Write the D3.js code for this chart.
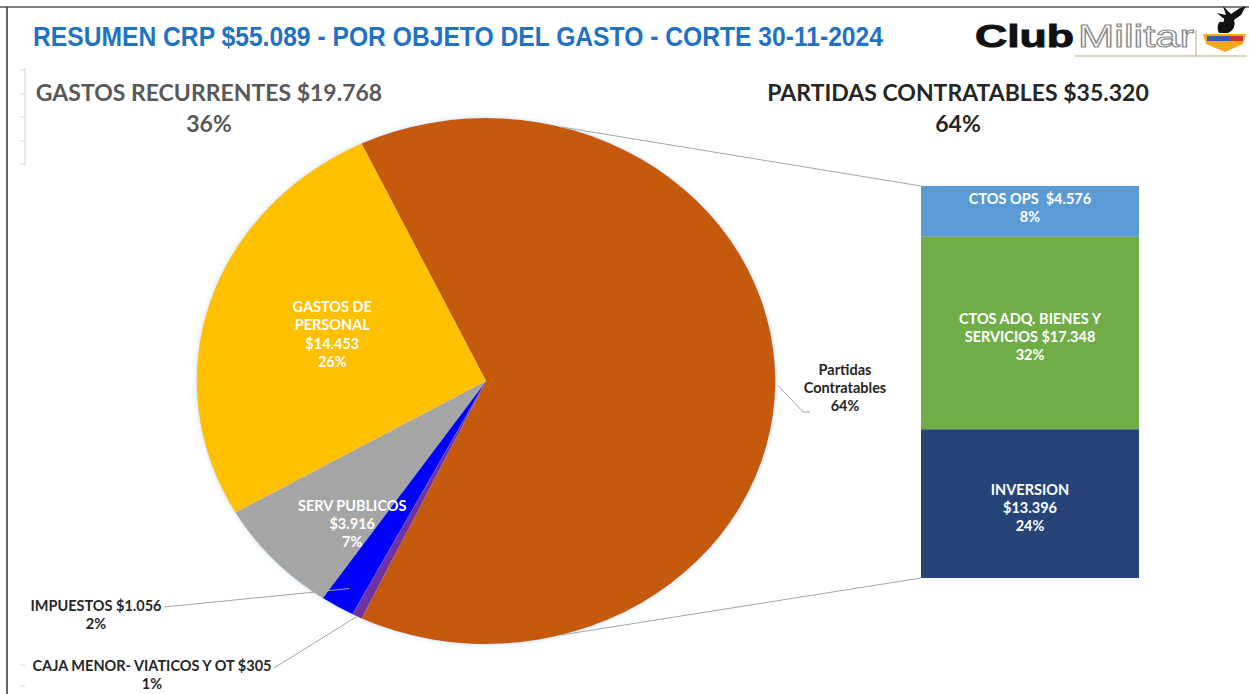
<!DOCTYPE html>
<html lang="es">
<head>
<meta charset="UTF-8">
<title>Resumen CRP por objeto del gasto</title>
<script src="https://d3js.org/d3.v7.min.js"></script>
<style>
  body { margin: 0; background: #fff; }
  text { font-family: Lato, "Open Sans", sans-serif; font-weight: bold; }
</style>
</head>
<body>
<script>
// pie slices (millions), in drawing order clockwise
var pieNames = ["Partidas Contratables", "CAJA MENOR- VIATICOS Y OT", "IMPUESTOS", "SERV PUBLICOS", "GASTOS DE PERSONAL"];
var pieValues = [35320, 305, 1056, 3916, 14453];
var pieColors = ["#C55A11", "#7030A0", "#0000FF", "#A5A5A5", "#FFC000"];

// bar breakdown of "Partidas Contratables", top to bottom
var barNames = ["CTOS OPS", "CTOS ADQ. BIENES Y SERVICIOS", "INVERSION"];
var barValues = [4576, 17348, 13396];
var barColors = ["#5B9BD5", "#70AD47", "#264478"];

var title = "RESUMEN CRP $55.089 - POR OBJETO DEL GASTO - CORTE 30-11-2024";
var leftHead = ["GASTOS RECURRENTES $19.768", "36%"];
var rightHead = ["PARTIDAS CONTRATABLES $35.320", "64%"];

var width = 1249, height = 694;
var fmt = function(v) { return "$" + d3.format(",")(v).replace(/,/g, "."); };
var total = d3.sum(pieValues);
var pct = function(v) { return Math.round(v / total * 100) + "%"; };

var svg = d3.select("body").append("svg")
    .attr("width", width).attr("height", height);

// frame
svg.append("line").attr("x1", 0).attr("x2", width).attr("y1", 7).attr("y2", 7)
    .attr("stroke", "#555").attr("stroke-width", 1.5);
svg.append("line").attr("x1", 7).attr("x2", 7).attr("y1", 7).attr("y2", height)
    .attr("stroke", "#333").attr("stroke-width", 1.5);
// faint leftover axis ticks
var ticks = svg.append("g").attr("stroke", "#d8d8d8");
ticks.append("line").attr("x1", 25).attr("x2", 25).attr("y1", 68).attr("y2", 165);
[70, 94, 117, 141, 164, 665, 686].forEach(function(y) {
    ticks.append("line").attr("x1", 20).attr("x2", 25).attr("y1", y).attr("y2", y);
});

// title
svg.append("text").attr("x", 33).attr("y", 46)
    .attr("textLength", 850).attr("lengthAdjust", "spacingAndGlyphs")
    .style("font-family", "'Liberation Sans Narrow', 'Arial Narrow', 'Liberation Sans', sans-serif")
    .style("font-size", "27px").attr("fill", "#2272C3")
    .text(title);

// logo
var logo = svg.append("g");
logo.append("text").attr("x", 975).attr("y", 47).attr("textLength", 99)
    .attr("lengthAdjust", "spacingAndGlyphs")
    .style("font-family", "'Liberation Sans', sans-serif").style("font-size", "32px")
    .style("font-weight", "900").attr("fill", "#111").attr("stroke", "#111").attr("stroke-width", 1)
    .text("Club");
logo.append("text").attr("x", 1078).attr("y", 47).attr("textLength", 116)
    .attr("lengthAdjust", "spacingAndGlyphs")
    .style("font-family", "'Liberation Sans', sans-serif").style("font-size", "31px")
    .style("font-weight", "normal")
    .attr("fill", "#fff").attr("stroke", "#8a8a8a").attr("stroke-width", 1.1).text("Militar");
logo.append("line").attr("x1", 1075).attr("x2", 1247).attr("y1", 56).attr("y2", 56)
    .attr("stroke", "#cfc6ad").attr("stroke-width", 1.5);
logo.append("line").attr("x1", 1196).attr("x2", 1196).attr("y1", 30).attr("y2", 57)
    .attr("stroke", "#cfc6ad").attr("stroke-width", 1.5);
logo.append("path").attr("d", "M1203,34 L1246,34 L1243,44 L1225,52 L1206,44 Z").attr("fill", "#F5A623");
logo.append("rect").attr("x", 1207).attr("y", 36).attr("width", 36).attr("height", 5).attr("fill", "#2E5FB8");
logo.append("rect").attr("x", 1230).attr("y", 36).attr("width", 13).attr("height", 5).attr("fill", "#D0312D");
// eagle
logo.append("path")
    .attr("d", "M1219,33 C1216,27 1218,21 1224,19 L1217,13 L1226,15 L1223,6 L1231,14 L1240,8 L1246,6 L1241,15 L1234,20 C1236,26 1233,31 1228,33 Z")
    .attr("fill", "#111");
logo.append("circle").attr("cx", 1222).attr("cy", 20).attr("r", 2.2).attr("fill", "#eee");

// headers
function header(lines, x, color) {
    var t = svg.append("text").attr("text-anchor", "middle").attr("fill", color)
        .style("font-size", "23px");
    lines.forEach(function(l, i) {
        t.append("tspan").attr("x", x).attr("y", 101 + i * 31).text(l);
    });
}
header(leftHead, 209, "#595959");
header(rightHead, 958, "#262626");

// pie (drawn as a circle, then stretched horizontally like the original)
var cx = 486, cy = 381, r = 263, sx = 1.1;
var startA = -25.5 * Math.PI / 180;
var pie = d3.pie().sort(null).startAngle(startA).endAngle(startA + 2 * Math.PI);
var arcs = pie(pieValues);
var arc = d3.arc().innerRadius(0).outerRadius(r);

var defs = svg.append("defs");
var f = defs.append("filter").attr("id", "glow").attr("x", "-10%").attr("y", "-10%")
    .attr("width", "120%").attr("height", "120%");
f.append("feGaussianBlur").attr("in", "SourceAlpha").attr("stdDeviation", 2.5).attr("result", "b");
f.append("feFlood").attr("flood-color", "#9ec5e0").attr("flood-opacity", 0.6);
f.append("feComposite").attr("in2", "b").attr("operator", "in").attr("result", "s");
var fm = f.append("feMerge");
fm.append("feMergeNode").attr("in", "s");
fm.append("feMergeNode").attr("in", "SourceGraphic");

var pieG = svg.append("g")
    .attr("transform", "translate(" + cx + "," + cy + ") scale(" + sx + ",1)")
    .attr("filter", "url(#glow)");
pieG.selectAll("path").data(arcs).enter().append("path")
    .attr("d", arc)
    .attr("fill", function(d, i) { return pieColors[i]; });

// point on the (stretched) pie at angle a and radius rr
function pt(a, rr) {
    return [cx + sx * rr * Math.sin(a), cy - rr * Math.cos(a)];
}
function mid(d) { return (d.startAngle + d.endAngle) / 2; }

// bar
var barX = 921, barW = 218, barTop = 186, barBottom = 578;
var y = d3.scaleLinear().domain([0, d3.sum(barValues)]).range([barTop, barBottom]);
var cum = d3.cumsum(barValues);
var bars = barValues.map(function(v, i) {
    return { name: barNames[i], value: v, y0: i ? cum[i - 1] : 0, y1: cum[i], color: barColors[i] };
});

// series lines from pie to bar
var p1 = pt(15 * Math.PI / 180, r), p2 = pt(165 * Math.PI / 180, r);
svg.append("line").attr("x1", p1[0]).attr("y1", p1[1]).attr("x2", barX).attr("y2", y(0))
    .attr("stroke", "#a6a6a6").attr("stroke-width", 1);
svg.append("line").attr("x1", p2[0]).attr("y1", p2[1]).attr("x2", barX).attr("y2", y(d3.sum(barValues)))
    .attr("stroke", "#a6a6a6").attr("stroke-width", 1);

svg.selectAll("rect.seg").data(bars).enter().append("rect")
    .attr("class", "seg")
    .attr("x", barX).attr("width", barW)
    .attr("y", function(d) { return y(d.y0); })
    .attr("height", function(d) { return y(d.y1) - y(d.y0); })
    .attr("fill", function(d) { return d.color; });

var barLabels = [
    [barNames[0] + "\u00a0\u00a0" + fmt(barValues[0]), pct(barValues[0])],
    ["CTOS ADQ. BIENES Y", "SERVICIOS " + fmt(barValues[1]), pct(barValues[1])],
    [barNames[2], fmt(barValues[2]), pct(barValues[2])]
];

function block(lines, x, yc, color, lh, fs) {
    var t = svg.append("text").attr("text-anchor", "middle").attr("fill", color)
        .style("font-size", (fs || 14.5) + "px");
    var y0 = yc - (lines.length - 1) * lh / 2 + 5;
    lines.forEach(function(l, i) {
        t.append("tspan").attr("x", x).attr("y", y0 + i * lh).text(l);
    });
    return t;
}

bars.forEach(function(d, i) {
    var yc = (y(d.y0) + y(d.y1)) / 2 + (i === 0 ? -3 : 4);
    block(barLabels[i], barX + barW / 2, yc, "#fff", 18);
});

// pie labels
var aPers = arcs[4], aServ = arcs[3], aImp = arcs[2], aCaja = arcs[1], aPart = arcs[0];
var lp = pt(mid(aPers), r * 0.56);
block(["GASTOS DE", "PERSONAL", fmt(pieValues[4]), pct(pieValues[4])], lp[0] + 1, lp[1] - 3, "#fff", 18.5);
var ls = pt(mid(aServ), r * 0.72);
block(["SERV PUBLICOS", fmt(pieValues[3]), pct(pieValues[3])], ls[0] + 19, ls[1] + 14, "#fff", 18);

// outside labels with leader lines
var leader = svg.append("g").attr("fill", "none").attr("stroke", "#a6a6a6").attr("stroke-width", 1);

var ePart = pt(mid(aPart), r + 2);
leader.append("path").attr("d", d3.line()([[ePart[0], ePart[1] + 4], [803, 412], [810, 412]]));
block(["Partidas", "Contratables", pct(pieValues[0])], 845, 388, "#262626", 18);

var eImp = pt(mid(aImp), r * 0.92);
leader.append("path").attr("d", d3.line()([[164, 607], [eImp[0], eImp[1]]]));
block([pieNames[2] + " " + fmt(pieValues[2]), pct(pieValues[2])], 96, 615, "#262626", 18);

var eCaja = pt(mid(aCaja), r * 1.0);
leader.append("path").attr("d", d3.line()([[274, 668], [eCaja[0], eCaja[1]]]));
block([pieNames[1] + " " + fmt(pieValues[1]), pct(pieValues[1])], 152, 675, "#262626", 18);
</script>
</body>
</html>
